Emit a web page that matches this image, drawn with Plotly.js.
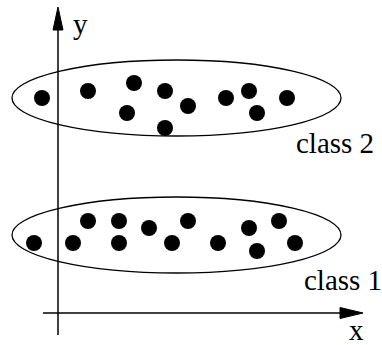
<!DOCTYPE html>
<html>
<head>
<meta charset="utf-8">
<script src="https://cdn.plot.ly/plotly-3.0.1.min.js"></script>
<style>html,body{margin:0;padding:0;background:#fff;}#chart{width:382px;height:345px;}</style>
</head>
<body>
<div id="chart"></div>
<script>
// Class 2 (upper cluster)
const class2X = [-16, 30, 76, 69, 107, 107, 130, 168, 191, 199, 229];
const class2Y = [215, 222, 230, 200, 222, 185, 207, 215, 222, 200, 215];
// Class 1 (lower cluster)
const class1X = [-24, 15, 30, 61, 61, 91, 114, 130, 160, 191, 199, 221, 237];
const class1Y = [70, 70, 92, 92, 70, 85, 70, 92, 70, 85, 62, 92, 70];
// Labels
const classLabels = ["class 1", "class 2"];
const axisLabels = ["x", "y"];

const serif = "'Liberation Serif', 'Times New Roman', Times, serif";

const traces = [
  {x: class2X, y: class2Y, mode: "markers", type: "scatter", name: classLabels[1],
   marker: {size: 16, color: "#000"}, hoverinfo: "skip"},
  {x: class1X, y: class1Y, mode: "markers", type: "scatter", name: classLabels[0],
   marker: {size: 16, color: "#000"}, hoverinfo: "skip"}
];

const shapes = [
  // ellipses
  {type: "circle", xref: "x", yref: "y", x0: -46, x1: 283, y0: 177, y1: 253,
   line: {color: "#000", width: 1.3}},
  {type: "circle", xref: "x", yref: "y", x0: -46, x1: 283, y0: 40, y1: 116,
   line: {color: "#000", width: 1.3}},
  // axes
  {type: "line", xref: "x", yref: "y", x0: 0, x1: 0, y0: -22, y1: 290,
   line: {color: "#000", width: 1.5}},
  {type: "line", xref: "x", yref: "y", x0: -15, x1: 290, y0: 0, y1: 0,
   line: {color: "#000", width: 1.5}},
  // arrow heads
  {type: "path", xref: "x", yref: "y", path: "M 0 306 L -5 283 L 5 283 Z",
   fillcolor: "#000", line: {color: "#000", width: 1}},
  {type: "path", xref: "x", yref: "y", path: "M 305 0 L 282 5.5 L 282 -5.5 Z",
   fillcolor: "#000", line: {color: "#000", width: 1}}
];

const annotations = [
  {x: 22, y: 289, text: axisLabels[1], showarrow: false, font: {family: serif, size: 29, color: "#000"}},
  {x: 298, y: -17, text: axisLabels[0], showarrow: false, font: {family: serif, size: 29, color: "#000"}},
  {x: 277, y: 170, text: classLabels[1], showarrow: false, font: {family: serif, size: 29, color: "#000"}},
  {x: 285, y: 33, text: classLabels[0], showarrow: false, font: {family: serif, size: 29, color: "#000"}}
];

const layout = {
  width: 382, height: 345,
  margin: {l: 0, r: 0, t: 0, b: 0, pad: 0},
  paper_bgcolor: "#fff", plot_bgcolor: "#fff",
  showlegend: false,
  xaxis: {range: [-58, 324], visible: false, fixedrange: true},
  yaxis: {range: [-32, 313], visible: false, fixedrange: true},
  shapes: shapes,
  annotations: annotations
};

Plotly.newPlot("chart", traces, layout, {staticPlot: true, displayModeBar: false});
</script>
</body>
</html>
